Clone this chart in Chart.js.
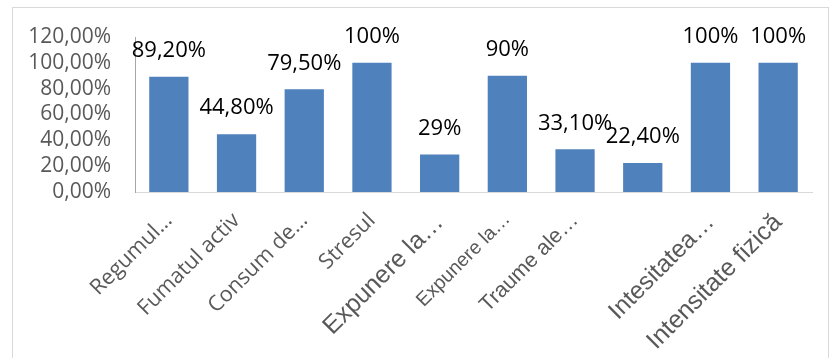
<!DOCTYPE html>
<html>
<head>
<meta charset="utf-8">
<script src="https://cdn.jsdelivr.net/npm/chart.js@4.4.1/dist/chart.umd.min.js"></script>
<style>
  html, body { margin: 0; padding: 0; background: #fff; overflow: hidden; }
  .box {
    position: absolute; left: 12px; top: 7px;
    width: 815px; height: 360px;
    border: 1px solid #d9d9d9;
  }
  canvas { display: block; }
</style>
</head>
<body>
<div class="box">
  <canvas id="factorsChart" width="814" height="350"></canvas>
</div>
<script>
  /* Data */
  var factors = ['Regumul…', 'Fumatul activ', 'Consum de…', 'Stresul', 'Expunere la…',
                 'Expunere la…', 'Traume ale…', '', 'Intesitatea…', 'Intensitate fizică'];
  var shares = [89.2, 44.8, 79.5, 100, 29, 90, 33.1, 22.4, 100, 100];
  var shareLabels = ['89,20%', '44,80%', '79,50%', '100%', '29%', '90%', '33,10%', '22,40%', '100%', '100%'];
  var yTicks = [0, 20, 40, 60, 80, 100, 120];

  // label fonts differ per category on the axis
  var tickFonts = [
    { family: 'Open Sans', size: 21.5 },
    { family: 'Open Sans', size: 21.5 },
    { family: 'Open Sans', size: 21.5 },
    { family: 'Open Sans', size: 21.5 },
    { family: 'Liberation Sans', size: 25 },
    { family: 'Liberation Sans', size: 19.5 },
    { family: 'Liberation Sans', size: 21.5 },
    { family: 'Liberation Sans', size: 21.5 },
    { family: 'Liberation Sans', size: 24.5 },
    { family: 'Liberation Sans', size: 25 }
  ];

  var ctx = document.getElementById('factorsChart').getContext('2d');
  new Chart(ctx, {
    type: 'bar',
    data: {
      labels: factors,
      datasets: [{
        data: shares,
        backgroundColor: '#4f81bd',
        borderWidth: 0,
        barPercentage: 0.58,
        categoryPercentage: 1
      }]
    },
    options: {
      responsive: false,
      animation: false,
      layout: { padding: { top: 29, right: 15, left: 0, bottom: 0 } },
      plugins: {
        legend: { display: false },
        tooltip: { enabled: false }
      },
      scales: {
        x: {
          grid: { display: false, drawTicks: false },
          border: { display: true, color: '#d9d9d9', width: 1 },
          ticks: {
            autoSkip: false,
            minRotation: 45,
            maxRotation: 45,
            padding: 16,
            color: '#595959',
            font: function (c) { return tickFonts[c.index] || tickFonts[0]; }
          },
          afterFit: function (scale) { scale.height = 166; }
        },
        y: {
          min: 0,
          max: 120,
          afterBuildTicks: function (scale) {
            scale.ticks = yTicks.map(function (v) { return { value: v }; });
          },
          grid: { display: false, drawTicks: false },
          border: { display: true, color: '#a6a6a6', width: 1 },
          ticks: {
            autoSkip: false,
            padding: 24,
            color: '#595959',
            font: { family: 'Open Sans', size: 21 },
            callback: function (v) { return v.toFixed(2).replace('.', ',') + '%'; }
          },
          afterFit: function (scale) {
            // fixed axis width; the layout padding handles the top/bottom room
            scale.width = 122;
            scale.paddingTop = 0;
            scale.paddingBottom = 0;
          }
        }
      }
    },
    plugins: [{
      id: 'barValues',
      afterDatasetsDraw: function (chart) {
        var c = chart.ctx;
        var meta = chart.getDatasetMeta(0);
        c.save();
        c.fillStyle = '#000';
        c.font = '22px "Open Sans", sans-serif';
        c.textAlign = 'center';
        c.textBaseline = 'middle';
        meta.data.forEach(function (bar, i) {
          c.fillText(shareLabels[i], bar.x, bar.y - 26);
        });
        c.restore();
      }
    }]
  });
</script>
</body>
</html>
